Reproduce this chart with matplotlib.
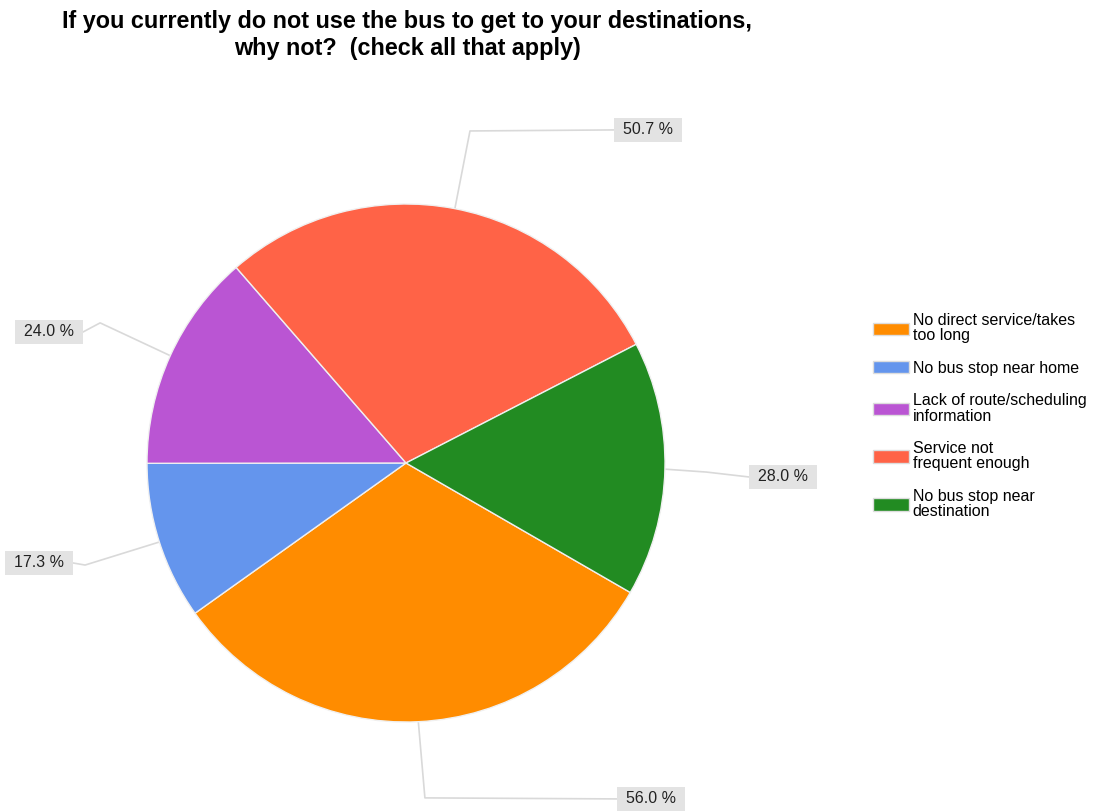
import matplotlib.pyplot as plt
from matplotlib.patches import Rectangle
import numpy as np

plt.rcParams['font.family'] = ['Liberation Sans', 'DejaVu Sans']

categories = ['No direct service/takes\ntoo long', 'No bus stop near home',
              'Lack of route/scheduling\ninformation', 'Service not\nfrequent enough',
              'No bus stop near\ndestination']
percents = [56.0, 17.3, 24.0, 50.7, 28.0]
colors = ['#FF8C00', '#6495ED', '#BA55D3', '#FF6347', '#228B22']

# elbow point and label centre for each leader line (pie radius = 1)
elbows = [(0.073, -1.293), (-1.239, -0.394), (-1.181, 0.541), (0.247, 1.282), (1.16, -0.035)]
label_pos = [(0.946, -1.297), (-1.417, -0.386), (-1.378, 0.506), (0.934, 1.286), (1.456, -0.054)]
box_w, box_h = 68 / 259, 24 / 259

fig = plt.figure(figsize=(10.97, 8.11), dpi=100)
ax = fig.add_axes([0, 0, 1, 1])

wedges, _ = ax.pie(percents, colors=colors, startangle=-30, counterclock=False,
                   radius=1.0, wedgeprops={'edgecolor': '#f0f0f0', 'linewidth': 1})

for w, p, (ex, ey), (lx, ly) in zip(wedges, percents, elbows, label_pos):
    mid = np.deg2rad((w.theta1 + w.theta2) / 2)
    x0, y0 = np.cos(mid), np.sin(mid)
    end_x = lx - box_w / 2 if lx > 0 else lx + box_w / 2
    ax.plot([x0, ex, end_x], [y0, ey, ly], color='#d9d9d9', lw=1.2, zorder=0)
    ax.add_patch(Rectangle((lx - box_w / 2, ly - box_h / 2), box_w, box_h,
                           facecolor='#e3e3e3', edgecolor='none', zorder=1))
    ax.text(lx, ly, '%.1f %%' % p, ha='center', va='center', fontsize=11.5,
            color='#222222', zorder=2)

# map data units to pixels: centre at (406, 463), radius 259 px
ax.set_xlim(-406 / 259, (1097 - 406) / 259)
ax.set_ylim(-(811 - 463) / 259, 463 / 259)
ax.set_aspect('auto')
ax.axis('off')

leg = ax.legend(wedges, categories, loc='upper left', bbox_to_anchor=(0.786, 0.628),
                frameon=False, fontsize=11.5, handlelength=2.2, handleheight=0.8,
                handletextpad=0.25, labelspacing=1.08, borderpad=0.2)
for h in leg.legend_handles:
    h.set_edgecolor('#dddddd')
for t in leg.get_texts():
    t.set_linespacing(1.05)

fig.text(0.371, 0.988, 'If you currently do not use the bus to get to your destinations,\n'
         'why not?  (check all that apply)', ha='center', va='top',
         fontsize=16.8, fontweight='bold', linespacing=1.25)

plt.savefig('out.png')
